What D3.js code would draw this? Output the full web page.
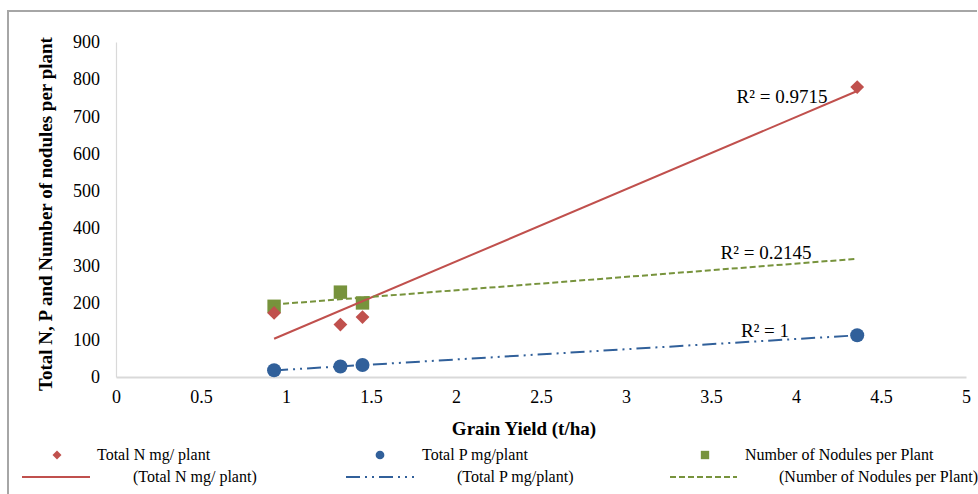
<!DOCTYPE html>
<html>
<head>
<meta charset="utf-8">
<script src="https://cdn.jsdelivr.net/npm/d3@7"></script>
<style>
  html, body { margin: 0; padding: 0; background: #fff; }
  svg { display: block; }
  svg text { font-family: "Liberation Serif", "Times New Roman", serif; fill: #000; }
</style>
</head>
<body>
<svg id="chart" width="978" height="494"></svg>
<script>
// ---- data ----
const grainYield = [0.93, 1.32, 1.45, 4.36];
const totalN = [172, 141, 161, 779];
const totalP = [18, 28, 32, 112];
const nodules = [190, 228, 199, null];
const xTicks = [0, 0.5, 1, 1.5, 2, 2.5, 3, 3.5, 4, 4.5, 5];
const yTicks = [0, 100, 200, 300, 400, 500, 600, 700, 800, 900];
const seriesNames = ["Total N mg/ plant", "Total P mg/plant", "Number of Nodules per Plant"];
const trendNames = ["(Total N mg/ plant)", "(Total P mg/plant)", "(Number of Nodules per Plant)"];
const r2Labels = ["R² = 0.9715", "R² = 1", "R² = 0.2145"];
const colors = ["#C0504D", "#31609A", "#77933C"];

const SERIF = "'Liberation Serif', 'Times New Roman', serif";
const svg = d3.select("#chart");
const x = d3.scaleLinear().domain([0, 5]).range([116, 966]);
const y = d3.scaleLinear().domain([0, 900]).range([377, 42]);

// outer chart border
svg.append("path").attr("d", "M8,494 L8,11 L977,11")
  .attr("fill", "none").attr("stroke", "#A6A6A6").attr("stroke-width", 2);

// axes
const gx = svg.append("g").attr("transform", "translate(0,377)")
  .call(d3.axisBottom(x).tickValues(xTicks).tickSize(0).tickPadding(13).tickFormat(d3.format("")));
gx.attr("font-family", SERIF).attr("font-size", 18);
gx.select(".domain").attr("stroke", "#D9D9D9").attr("stroke-width", 2);
gx.selectAll("text").attr("font-family", SERIF).attr("font-size", 18)
  .style("font-size", "18px").style("font-family", SERIF);

const gy = svg.append("g").attr("transform", "translate(116,0)")
  .call(d3.axisLeft(y).tickValues(yTicks).tickSize(0).tickPadding(16));
gy.attr("font-family", SERIF).attr("font-size", 18);
gy.select(".domain").attr("stroke", "#D9D9D9").attr("stroke-width", 1.2);
gy.selectAll("text").attr("font-family", SERIF).attr("font-size", 18)
  .style("font-size", "18px").style("font-family", SERIF);

// axis titles
svg.append("text").attr("x", 524).attr("y", 435).attr("text-anchor", "middle")
  .style("font-size", "19px").style("font-weight", "bold").text("Grain Yield (t/ha)");
svg.append("text").attr("transform", "translate(52,214) rotate(-90)").attr("text-anchor", "middle")
  .style("font-size", "19px").style("font-weight", "bold").text("Total N, P and Number of nodules per plant");

// linear regression helper
function fit(xs, ys) {
  const pts = xs.map((v, i) => [v, ys[i]]).filter(p => p[1] != null);
  const mx = d3.mean(pts, p => p[0]), my = d3.mean(pts, p => p[1]);
  const sxy = d3.sum(pts, p => (p[0] - mx) * (p[1] - my));
  const sxx = d3.sum(pts, p => (p[0] - mx) ** 2);
  const b = sxy / sxx, a = my - b * mx;
  return v => a + b * v;
}
const x0 = d3.min(grainYield), x1 = d3.max(grainYield);
const allSeries = [totalN, totalP, nodules];
const dashes = [null, "14,5,2,5,2,5", "6,3"];
const line = d3.line().x(d => x(d[0])).y(d => y(d[1]));

// markers
svg.append("g").selectAll("path").data(grainYield.map((v, i) => [v, nodules[i]]).filter(d => d[1] != null))
  .join("path").attr("transform", d => `translate(${x(d[0])},${y(d[1])})`)
  .attr("d", d3.symbol().type(d3.symbolSquare).size(180)).attr("fill", colors[2]);
svg.append("g").selectAll("path").data(grainYield.map((v, i) => [v, totalN[i]]))
  .join("path").attr("transform", d => `translate(${x(d[0])},${y(d[1])}) rotate(45)`)
  .attr("d", d3.symbol().type(d3.symbolSquare).size(95)).attr("fill", colors[0]);
svg.append("g").selectAll("path").data(grainYield.map((v, i) => [v, totalP[i]]))
  .join("path").attr("transform", d => `translate(${x(d[0])},${y(d[1])})`)
  .attr("d", d3.symbol().type(d3.symbolCircle).size(155)).attr("fill", colors[1]);

// trend lines
allSeries.forEach((s, i) => {
  const f = fit(grainYield, s);
  svg.append("path").attr("d", line([[x0, f(x0)], [x1, f(x1)]]))
    .attr("fill", "none").attr("stroke", colors[i]).attr("stroke-width", 2)
    .attr("stroke-dasharray", dashes[i]);
});

// R² labels
const r2Pos = [[782, 103], [765, 337], [766, 259]];
r2Labels.forEach((t, i) => {
  svg.append("text").attr("x", r2Pos[i][0]).attr("y", r2Pos[i][1]).attr("text-anchor", "middle")
    .style("font-size", "19px").text(t);
});

// legend
const legX = [57, 380, 705];
const legTextX = [97, 422, 745];
const lineX = [[22, 90], [346, 414], [670, 737]];
const lineTextX = [133, 457, 779];
for (let i = 0; i < 3; i++) {
  const g = svg.append("g");
  let shape = g.append("path").attr("fill", colors[i]);
  if (i === 0) shape.attr("transform", `translate(${legX[i]},455) rotate(45)`).attr("d", d3.symbol().type(d3.symbolSquare).size(40));
  if (i === 1) shape.attr("transform", `translate(${legX[i]},455)`).attr("d", d3.symbol().type(d3.symbolCircle).size(60));
  if (i === 2) shape.attr("transform", `translate(${legX[i]},455)`).attr("d", d3.symbol().type(d3.symbolSquare).size(70));
  g.append("text").attr("x", legTextX[i]).attr("y", 460).style("font-size", "16px").text(seriesNames[i]);
  g.append("line").attr("x1", lineX[i][0]).attr("x2", lineX[i][1]).attr("y1", 477).attr("y2", 477)
    .attr("stroke", colors[i]).attr("stroke-width", 2).attr("stroke-dasharray", dashes[i]);
  g.append("text").attr("x", lineTextX[i]).attr("y", 482).style("font-size", "16px").text(trendNames[i]);
}
</script>
</body>
</html>
